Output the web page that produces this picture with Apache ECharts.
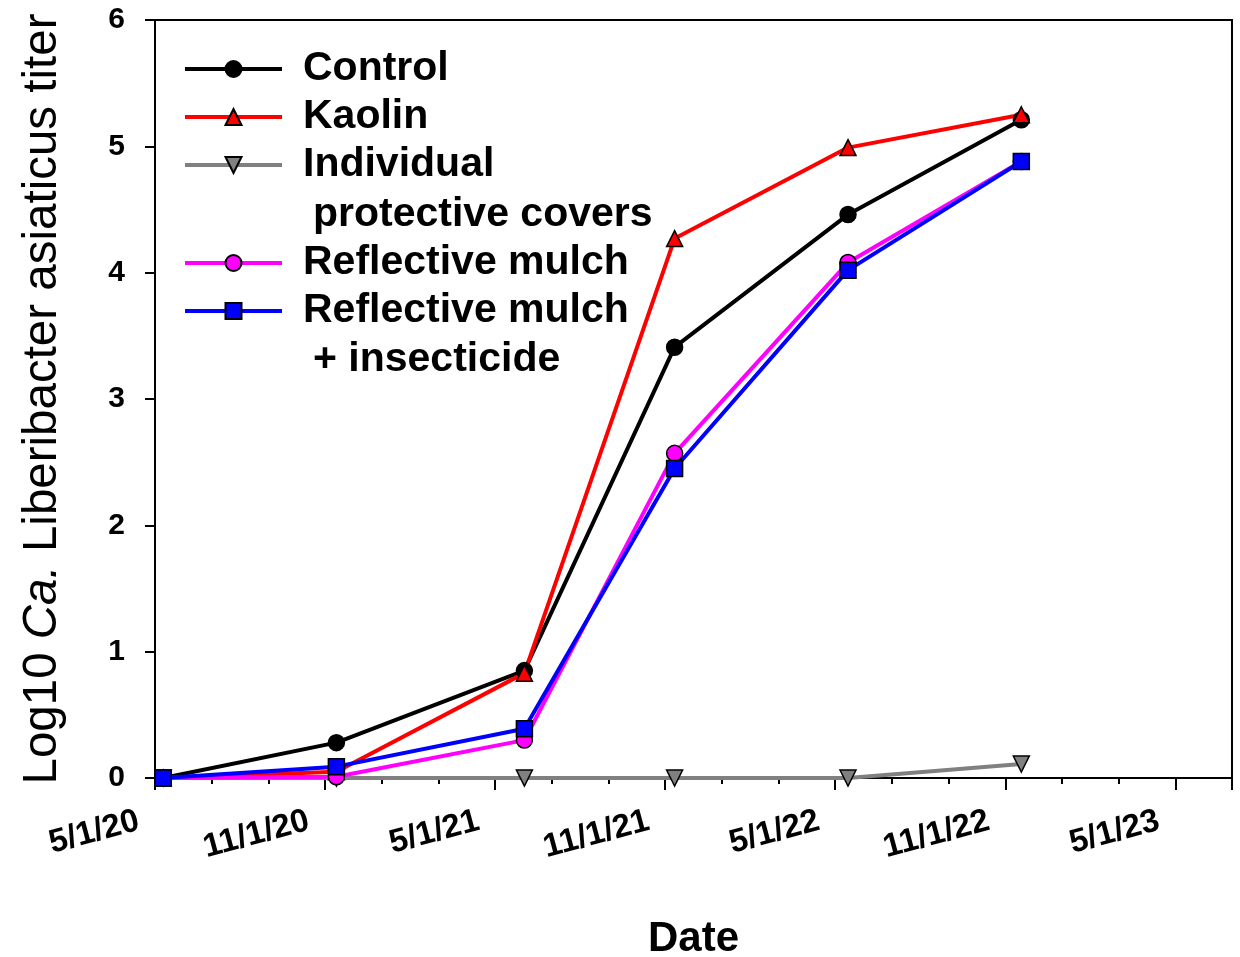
<!DOCTYPE html>
<html>
<head>
<meta charset="utf-8">
<script src="https://cdn.jsdelivr.net/npm/echarts@6/dist/echarts.min.js"></script>
<style>
html,body{margin:0;padding:0;background:#fff;}
#chart{width:1240px;height:957px;}
</style>
</head>
<body>
<div id="chart"></div>
<script>
// sampling dates and tick labels
var sampleDates = ['2020-05-10','2020-11-13','2021-06-02','2021-11-11','2022-05-15','2022-11-18'];
var tickLabels = ['5/1/20','11/1/20','5/1/21','11/1/21','5/1/22','11/1/22','5/1/23'];

var seriesNames = ['Control','Kaolin','Individual protective covers','Reflective mulch','Reflective mulch + insecticide'];
var control  = [0, 0.28, 0.85, 3.41, 4.46, 5.21];
var kaolin   = [0, 0.05, 0.83, 4.27, 4.99, 5.25];
var covers   = [0, 0, 0, 0, 0, 0.11];
var mulch    = [0, 0.01, 0.30, 2.57, 4.08, 4.88];
var mulchIns = [0, 0.09, 0.39, 2.45, 4.02, 4.88];

var FONT = "'Liberation Sans', Arial, sans-serif";

// months since 5/1/20
function monthPos(s){
	var p = s.split('-');
	var y = +p[0], m = +p[1], d = +p[2];
	var dim = new Date(y, m, 0).getDate();
	return (y-2020)*12 + (m-5) + (d-1)/dim;
}
function pairs(vals){
	var out=[];
	for(var i=0;i<vals.length;i++){
		out.push([monthPos(sampleDates[i]), vals[i]]);
	}
	return out;
}
function line(name,vals,color,symbol){
	return {
		name:name,
		type:'line',
		data:pairs(vals),
		symbol:symbol,
		symbolSize:16,
		lineStyle:{color:color,width:4},
		itemStyle:{color:color,borderColor:'#000',borderWidth:1.5},
		emphasis:{disabled:true},
		animation:false
	};
}
var downTri = 'path://M0,0L20,0L10,17Z';

var el = echarts.init(document.getElementById('chart'));
var legendText = {fontSize:41,fontWeight:'bold',fontFamily:FONT,color:'#000',lineHeight:48,padding:[0,0,0,16]};
function shortName(n){
	if(n===seriesNames[2]) return 'Individual';
	if(n===seriesNames[4]) return 'Reflective mulch';
	return n;
}
var elData = {
	backgroundColor:'#fff',
	grid:{left:155,right:8,top:20,bottom:179,outerBoundsMode:'none',containLabel:false,show:true,borderColor:'#000',borderWidth:2},
	legend:[{
		data:[seriesNames[0],seriesNames[1],seriesNames[2]],
		orient:'vertical',left:183,top:45,padding:0,itemGap:0,itemWidth:97,itemHeight:20,
		lineStyle:{width:4},
		textStyle:legendText,formatter:shortName,selectedMode:false
	},{
		data:[seriesNames[3],seriesNames[4]],
		orient:'vertical',left:183,top:239,padding:0,itemGap:0,itemWidth:97,itemHeight:20,
		lineStyle:{width:4},
		textStyle:legendText,formatter:shortName,selectedMode:false
	}],
	graphic:[
		{type:'text',left:313,top:194,style:{text:'protective covers',font:'bold 41px '+FONT,fill:'#000'}},
		{type:'text',left:313,top:339,style:{text:'+ insecticide',font:'bold 41px '+FONT,fill:'#000'}}
	],
	xAxis:[{
		type:'value',min:0,max:38,interval:6,
		name:'Date',nameLocation:'middle',nameGap:140,
		nameTextStyle:{fontSize:42,fontWeight:'bold',fontFamily:FONT,color:'#000'},
		axisLine:{lineStyle:{color:'#000',width:2}},
		axisTick:{length:12,lineStyle:{color:'#000',width:2}},
		splitLine:{show:false},
		axisLabel:{
			rotate:15,margin:38,fontSize:33,fontWeight:'bold',fontFamily:FONT,color:'#000',
			padding:[0,17,0,0],
			formatter:function(v){ return v%6===0 ? tickLabels[v/6] : ''; }
		}
	},{
		type:'value',min:0,max:38,interval:2,position:'bottom',
		axisLine:{show:false},
		axisTick:{length:6,lineStyle:{color:'#000',width:2}},
		axisLabel:{show:false},
		splitLine:{show:false}
	}],
	yAxis:{
		type:'value',min:0,max:6,interval:1,
		name:'Log10 {i|Ca.} Liberibacter asiaticus titer',
		nameLocation:'middle',nameGap:88,
		nameTextStyle:{fontSize:47.5,fontFamily:FONT,color:'#000',rich:{i:{fontSize:47.5,fontStyle:'italic',fontFamily:FONT,color:'#000'}}},
		axisLine:{lineStyle:{color:'#000',width:2}},
		axisTick:{length:10,lineStyle:{color:'#000',width:2}},
		splitLine:{show:false},
		axisLabel:{margin:30,fontSize:30,fontWeight:'bold',fontFamily:FONT,color:'#000'}
	},
	series:[
		line(seriesNames[2],covers,'#808080',downTri),
		line(seriesNames[0],control,'#000000','circle'),
		line(seriesNames[1],kaolin,'#ff0000','triangle'),
		line(seriesNames[3],mulch,'#ff00ff','circle'),
		line(seriesNames[4],mulchIns,'#0000ff','rect')
	]
};
el.setOption(elData);
</script>
</body>
</html>
